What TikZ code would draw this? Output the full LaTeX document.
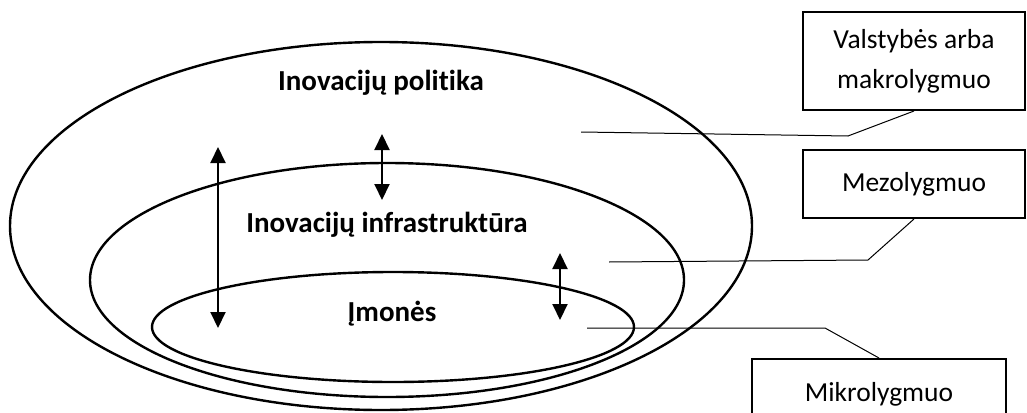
\documentclass[tikz,border=0pt]{standalone}
\usepackage{fontspec}
\setmainfont{Carlito}[Ligatures=NoCommon]
\usetikzlibrary{arrows.meta,positioning}

\begin{document}
\begin{tikzpicture}[x=1pt,y=-1pt,
    level/.style={draw=black, line width=2.4pt},
    lvlbox/.style={rectangle, draw=black, line width=2pt, align=center,
      inner sep=0pt, font=\fontsize{27.5}{40}\selectfont},
    title/.style={font=\bfseries\fontsize{29}{34}\selectfont},
    lead/.style={draw=black, line width=1pt},
    twoway/.style={line width=2pt,
      {Triangle[width=15pt,length=16pt]}-{Triangle[width=15pt,length=16pt]}}]
  \useasboundingbox (0,0) rectangle (1027,412);
  % levels
  \draw[level] (381,226) ellipse [x radius=371, y radius=184];
  \draw[level] (387,280) ellipse [x radius=297, y radius=117];
  \draw[level] (393,327) ellipse [x radius=241, y radius=55];
  \node[title] (pol) at (381,83) {Inovacijų politika};
  \node[title] (infra) at (387,225) {Inovacijų infrastruktūra};
  \node[title] (imon) at (392,314) {Įmonės};
  % boxes
  \begin{scope}[every node/.style={lvlbox}]
    \node (valst) [minimum width=222pt, minimum height=98pt] at (914,61)
      {Valstybės arba\\makrolygmuo};
    \node (mezo) [minimum width=222pt, minimum height=68pt] at (914,184)
      {Mezolygmuo};
    \node (mikro) [minimum width=254pt, minimum height=70pt,
      anchor=north] at (879,358) {Mikrolygmuo};
  \end{scope}
  % leaders
  \coordinate (v1) at (581,132);
  \coordinate (v2) at (848,136);
  \coordinate (m1) at (609,262);
  \coordinate (m2) at (868,260);
  \coordinate (k1) at (587,328);
  \coordinate (k2) at (825,328);
  \draw[lead] (v1) -- (v2) -- (valst.south);
  \draw[lead] (m1) -- (m2) -- (mezo.south);
  \draw[lead] (k1) -- (k2) -- (mikro.north);
  % arrows
  \coordinate (a1) at (218,147);
  \coordinate (a2) at (218,328);
  \coordinate (b1) at (382,134);
  \coordinate (b2) at (382,200);
  \coordinate (c1) at (560,253);
  \coordinate (c2) at (560,320);
  \draw[twoway] (a1) -- (a2);
  \draw[twoway] (b1) -- (b2);
  \draw[twoway] (c1) -- (c2);
\end{tikzpicture}
\end{document}
